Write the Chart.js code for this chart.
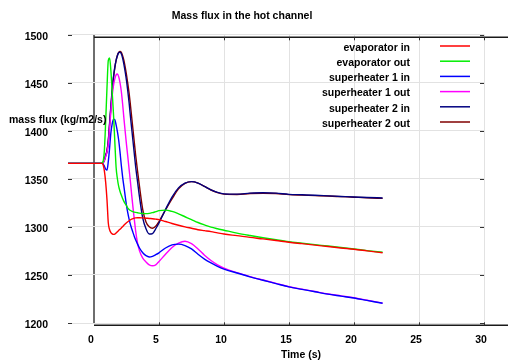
<!DOCTYPE html>
<html><head><meta charset="utf-8">
<script src="https://cdn.jsdelivr.net/npm/chart.js@4/dist/chart.umd.min.js"></script>
<style>html,body{margin:0;padding:0;background:#fff;overflow:hidden}</style>
</head><body><canvas id="c" width="508" height="363"></canvas>
<script>
const chartTitle = 'Mass flux in the hot channel';
const xTitle = 'Time (s)';
const yTitle = 'mass flux (kg/m2/s)';
const seriesNames = ['evaporator in','evaporator out','superheater 1 in','superheater 1 out','superheater 2 in','superheater 2 out'];
const seriesColors = ['#ff0000','#00ee00','#0000ff','#ff00ff','#000080','#800000'];
const xTicks = [0,5,10,15,20,25,30];
const yTicks = [1200,1250,1300,1350,1400,1450,1500];

const time = [-2,0,0.5,0.6,0.7, 0.8,0.9,1.0,1.1,1.2, 1.3,1.4,1.5,1.6,1.7, 1.8,1.9,2.0,2.1,2.2,
  2.3,2.4,2.5,2.6,2.7, 2.8,2.9,3.0,3.1,3.2, 3.35,3.5,3.75,4,4.25, 4.5,4.75,5,5.5,6,
  6.5,7,7.5,8,8.5, 9,9.5,10,11,12, 13,14,15,16,17, 18,19,20,21,22.2];

const evapIn = [1366,1366,1366,1366,1364.5, 1358,1346,1328,1304,1297, 1294,1292.7,1292.2,1292.5,1293.5, 1295,1296.3,1297.5,1298.8,1300.2,
  1301.6,1303,1304.2,1305.3,1306.3, 1307.2,1307.9,1308.5,1309,1309.3, 1309.5,1309.5,1309.3,1309,1308.7, 1308.4,1308,1307.5,1305.5,1303.5,
  1301.7,1300,1298.5,1297,1296, 1295,1293.7,1292.5,1290.8,1289, 1287.5,1285.8,1284,1282.5,1281, 1279.5,1278,1276.7,1275,1273];

const evapOut = [1366,1366,1366,1366.5,1368, 1380,1410,1445,1473,1475.5, 1462,1440,1417,1389,1362, 1350,1342,1337,1333,1329.5,
  1326.5,1324,1322,1319.5,1318, 1317,1316.3,1315.8,1315.3,1315, 1314.6,1314.2,1313.8,1313.7,1314, 1314.8,1315.8,1316.8,1317.4,1316,
  1313.5,1310.5,1307.5,1304.5,1302, 1299.7,1298,1296.5,1293.5,1291, 1288.7,1286.5,1284.5,1283,1281.5, 1280,1278.5,1277,1275.3,1273.5];

const sh1In = [1366,1366,1366,1366,1365.5, 1363,1360,1359,1368,1382, 1398,1407,1412,1411.5,1406, 1399,1390,1378,1364,1352,
  1342,1332,1322,1314.5,1308, 1302.5,1298,1294,1290,1286.5, 1282,1278,1273,1270,1268.7, 1269.3,1271,1273,1278,1281.3,
  1282,1280.5,1277,1271.5,1266.5, 1262.5,1259,1256,1252,1248, 1244.5,1241,1237.5,1235,1232.5, 1230,1228,1226,1223.5,1220.5];

const sh1Out = [1366,1366,1366,1366,1366.5, 1369,1373,1378,1386,1403, 1420,1436,1447,1454,1458, 1459,1456,1450,1441,1428,
  1413,1399,1385.5,1373,1360, 1347,1333,1320,1308,1296, 1283,1275,1267.5,1263.5,1260.5, 1259.5,1260.5,1264,1271.5,1278.5,
  1283,1285,1282.5,1277,1270.5, 1265,1260.5,1257,1252.3,1248.3, 1244.7,1241.2,1237.7,1235.2,1232.7, 1230.2,1228.2,1226.2,1223.7,1220.7];

const sh2In = [1366,1366,1366,1366,1367, 1370,1375,1378,1390,1408, 1426,1443,1456,1466,1473, 1478,1481,1481.5,1480,1475.5,
  1469,1461,1452,1441,1429, 1415,1402,1389,1376,1363, 1347,1331,1309,1298,1292.5, 1293,1298,1304,1318,1331,
  1340.5,1345.5,1347,1345.5,1342, 1338.5,1335.8,1334.3,1334,1335, 1335.5,1335,1333.8,1333.3,1332.8, 1332.2,1331.6,1331,1330.5,1330];

const sh2Out = [1366,1366,1366,1366,1366.5, 1369,1374,1380,1389,1406, 1424,1441,1455,1465,1473, 1478.5,1481.5,1482.5,1481.5,1478,
  1473,1466,1458,1449,1439, 1427,1414,1401,1388,1375, 1358,1342,1318,1305,1300, 1298.5,1300.5,1305.5,1317.5,1329,
  1339.5,1345.3,1347,1345.5,1342, 1338.3,1335.5,1334,1333.7,1334.6, 1335,1334.6,1333.5,1333,1332.5, 1332,1331.4,1330.8,1330.2,1329.6];

const seriesValues = [evapIn, evapOut, sh1In, sh1Out, sh2In, sh2Out];

const FONT = '"Liberation Sans", Arial, sans-serif';
const GRID = '#e2e2e2';

const decor = {
  id: 'decor',
  afterDraw(chart) {
    const {ctx, chartArea: a, scales: {x, y}} = chart;
    const x0 = x.getPixelForValue(0);
    const yt = a.top + 2.8, yb = a.bottom + 2.3;
    ctx.save();
    ctx.strokeStyle = '#1a1a1a'; ctx.lineWidth = 1.5;
    ctx.beginPath();
    ctx.moveTo(x0, yt); ctx.lineTo(chart.width, yt);
    ctx.moveTo(x0, yb); ctx.lineTo(chart.width, yb);
    ctx.stroke();
    ctx.strokeStyle = '#333'; ctx.lineWidth = 1;
    ctx.beginPath();
    y.ticks.forEach(t => {
      const py = Math.round(y.getPixelForValue(t.value)) + 0.5;
      ctx.moveTo(a.left, py); ctx.lineTo(a.left + 4, py);
      ctx.moveTo(a.right - 4, py); ctx.lineTo(a.right, py);
    });
    x.ticks.forEach(t => {
      if (t.value === 0) return;
      const px = Math.round(x.getPixelForValue(t.value)) + 0.5;
      ctx.moveTo(px, yt); ctx.lineTo(px, yt + 3);
      ctx.moveTo(px, yb); ctx.lineTo(px, yb - 3);
    });
    ctx.stroke();
    ctx.fillStyle = '#000';
    ctx.font = 'bold 10.5px ' + FONT;
    ctx.textBaseline = 'middle';
    ctx.textAlign = 'center';
    ctx.fillText(xTitle, 301, 355);
    ctx.textAlign = 'left';
    ctx.fillText(yTitle, 9, 120);
    chart.data.datasets.forEach((ds, i) => {
      const ly = 46 + i * 15.2;
      ctx.textAlign = 'right';
      ctx.fillStyle = '#000';
      ctx.fillText(ds.label, 410, ly + 2);
      ctx.strokeStyle = ds.borderColor; ctx.lineWidth = 1.5;
      ctx.beginPath(); ctx.moveTo(440, ly); ctx.lineTo(470, ly); ctx.stroke();
    });
    ctx.restore();
  }
};

new Chart(document.getElementById('c'), {
  type: 'line',
  data: {
    datasets: seriesNames.map((name, i) => ({
      label: name,
      data: time.map((t, j) => ({x: t, y: seriesValues[i][j]})),
      borderColor: seriesColors[i],
      backgroundColor: seriesColors[i],
      borderWidth: 1.4,
      pointRadius: 0,
      fill: false,
      cubicInterpolationMode: 'monotone'
    }))
  },
  options: {
    responsive: false,
    animation: false,
    devicePixelRatio: 1,
    layout: {padding: {left: 0, right: 24, top: 0, bottom: 0}},
    plugins: {
      legend: {display: false},
      tooltip: {enabled: false},
      title: {
        display: true, text: chartTitle, color: '#000',
        font: {family: FONT, size: 10.5, weight: 'bold', lineHeight: 1.2},
        padding: {top: 9.5, bottom: 12.4}
      }
    },
    scales: {
      x: {
        type: 'linear', min: -2, max: 30,
        afterBuildTicks: s => { s.ticks = xTicks.map(v => ({value: v})); },
        afterFit: s => { s.height = 40; },
        border: {display: false},
        grid: {
          drawTicks: false,
          color: c => (c.tick && c.tick.value === 0) ? '#6e6e6e' : GRID,
          lineWidth: c => (c.tick && c.tick.value === 0) ? 2 : 1
        },
        ticks: {
          padding: 11, labelOffset: -3, color: '#000', maxRotation: 0,
          callback: v => String(v),
          font: {family: FONT, size: 10.5, weight: 'bold'}
        }
      },
      y: {
        type: 'linear', min: 1200, max: 1500,
        afterBuildTicks: s => { s.ticks = yTicks.map(v => ({value: v})); },
        afterFit: s => { s.width = 68; },
        border: {display: false},
        grid: {drawTicks: false, color: GRID, lineWidth: 1},
        ticks: {
          padding: 20, labelOffset: 2.5, color: '#000',
          callback: v => String(v),
          font: {family: FONT, size: 10.5, weight: 'bold'}
        }
      }
    }
  },
  plugins: [decor]
});
</script>
</body></html>
